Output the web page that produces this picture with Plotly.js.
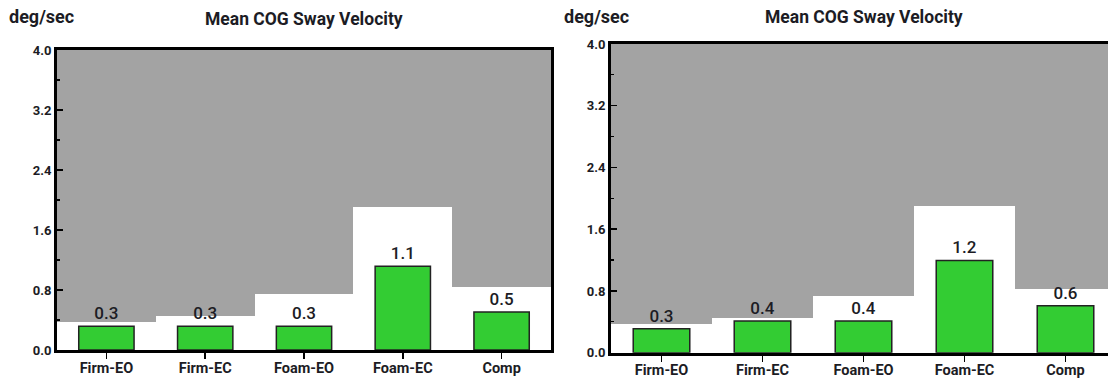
<!DOCTYPE html>
<html>
<head>
<meta charset="utf-8">
<script src="https://cdn.plot.ly/plotly-3.0.1.min.js"></script>
<style>
html,body{margin:0;padding:0;overflow:hidden;background:#fff;width:1108px;height:379px;}
#chart{width:1120px;height:379px;}
</style>
</head>
<body>
<div id="chart"></div>
<script>
// ---- data ----
const categories = ["Firm-EO", "Firm-EC", "Foam-EO", "Foam-EC", "Comp"];
const leftValues = [0.316, 0.316, 0.316, 1.116, 0.507];
const rightValues = [0.31, 0.41, 0.41, 1.195, 0.607];
const leftNormLimits = [0.377, 0.457, 0.742, 1.91, 0.84];
const rightNormLimits = [0.369, 0.45, 0.73, 1.905, 0.83];
const yTickVals = [0, 0.8, 1.6, 2.4, 3.2, 4.0];
const yTickText = ["0.0", "0.8", "1.6", "2.4", "3.2", "4.0"];
const yMax = 4.0;
const chartTitle = "Mean COG Sway Velocity";
const unitLabel = "deg/sec";

// ---- layout helpers ----
const W = 1120, H = 379;
const px = v => v / W;
const py = v => 1 - v / H;

const GRAY = "#a3a3a3";
const GREEN = "#33cc33";
const TXT = "#1c1c24";
const FONT = "Roboto, 'Open Sans', sans-serif";

function grayTrace(limits, xa, ya) {
  return {
    type: "bar", x: categories, y: limits.map(l => yMax - l), base: limits,
    width: 1, marker: {color: GRAY, line: {width: 0}},
    xaxis: xa, yaxis: ya, hoverinfo: "skip", showlegend: false
  };
}
function barTrace(vals, xa, ya) {
  return {
    type: "bar", x: categories, y: vals, width: 0.56,
    marker: {color: GREEN, line: {color: "#222", width: 1.5}},
    texttemplate: "%{y:.1f}", textposition: "outside", cliponaxis: false,
    textfont: {family: FONT, size: 17, color: TXT, weight: 500},
    xaxis: xa, yaxis: ya, showlegend: false
  };
}

const data = [
  grayTrace(leftNormLimits, "x", "y"),
  barTrace(leftValues, "x", "y"),
  grayTrace(rightNormLimits, "x2", "y2"),
  barTrace(rightValues, "x2", "y2")
];

function xAxis(d0, d1, anchor, standoff) {
  return {
    domain: [px(d0), px(d1)], anchor: anchor, type: "category",
    range: [-0.5, 4.5], fixedrange: true,
    showline: true, linecolor: "#000", linewidth: 3, mirror: true,
    ticks: "outside", ticklen: 6, tickwidth: 1.5, tickcolor: "#000",
    ticklabelstandoff: standoff,
    tickfont: {family: FONT, size: 14.5, color: TXT, weight: "bold"},
    showgrid: false, zeroline: false
  };
}
function yAxis(top, bottom, anchor) {
  return {
    domain: [py(bottom), py(top)], anchor: anchor,
    range: [0, yMax], fixedrange: true,
    tickvals: yTickVals, ticktext: yTickText,
    showline: true, linecolor: "#000", linewidth: 3, mirror: true,
    ticks: "inside", ticklen: 6, tickwidth: 1.5, tickcolor: "#000",
    minor: {dtick: 0.4, ticks: "inside", ticklen: 3, tickwidth: 1.2, tickcolor: "#000"},
    tickfont: {family: FONT, size: 13, color: TXT, weight: "bold"},
    showgrid: false, zeroline: false
  };
}

const layout = {
  width: W, height: H,
  margin: {l: 0, r: 0, t: 0, b: 0},
  paper_bgcolor: "#fff", plot_bgcolor: "#fff",
  barmode: "overlay", bargap: 0,
  xaxis: xAxis(57, 551, "y", -3),
  yaxis: yAxis(50, 350, "x"),
  xaxis2: xAxis(611, 1116, "y2", -4),
  yaxis2: yAxis(44, 352.7, "x2"),
  annotations: [
    {text: chartTitle, x: px(304), y: py(19), xref: "paper", yref: "paper", xanchor: "center", yanchor: "middle", showarrow: false,
     font: {family: FONT, size: 17.5, color: TXT, weight: "bold"}},
    {text: unitLabel, x: px(41.5), y: py(17), xref: "paper", yref: "paper", xanchor: "center", yanchor: "middle", showarrow: false,
     font: {family: FONT, size: 18, color: TXT, weight: "bold"}},
    {text: chartTitle, x: px(864), y: py(17), xref: "paper", yref: "paper", xanchor: "center", yanchor: "middle", showarrow: false,
     font: {family: FONT, size: 17.5, color: TXT, weight: "bold"}},
    {text: unitLabel, x: px(596), y: py(16), xref: "paper", yref: "paper", xanchor: "center", yanchor: "middle", showarrow: false,
     font: {family: FONT, size: 18, color: TXT, weight: "bold"}}
  ]
};

Plotly.newPlot("chart", data, layout, {staticPlot: true, displayModeBar: false});
</script>
</body>
</html>
